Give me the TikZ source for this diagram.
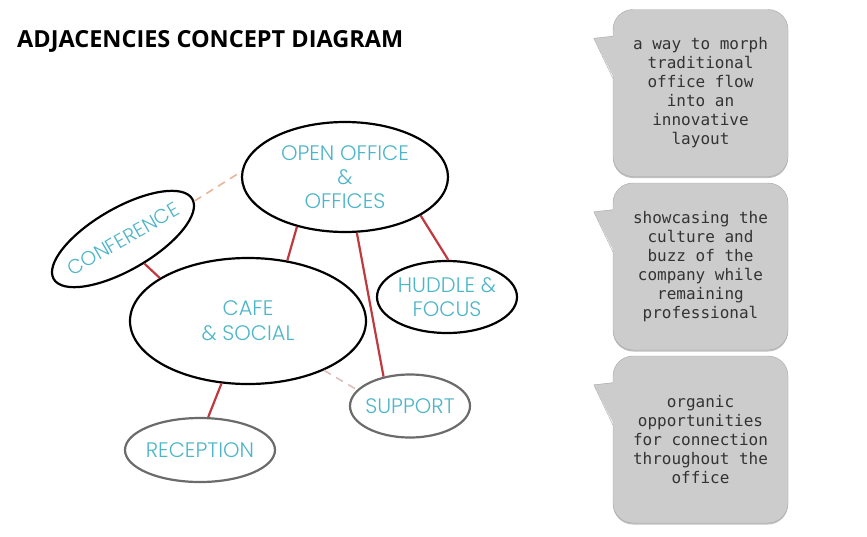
\documentclass[tikz,border=0pt]{standalone}
\usepackage{fontspec}
\setmainfont{Open Sans}
\newfontfamily\roomfont{Poppins}[UprightFont=* Light]
\newfontfamily\notefont{DejaVu Sans Mono}
\usetikzlibrary{shapes.geometric, calc, shadows}

\definecolor{roomteal}{HTML}{4DB5C8}
\definecolor{ringgray}{HTML}{6B6B6B}
\definecolor{linkred}{HTML}{C0393F}
\definecolor{weakpeach}{HTML}{E8B49C}
\definecolor{faintpink}{HTML}{DDBFBF}
\definecolor{notefill}{HTML}{CCCCCC}
\definecolor{notegray}{HTML}{A8A8A8}
\definecolor{notetext}{HTML}{333333}

\begin{document}
\begin{tikzpicture}[
    x=1pt, y=1pt,
    room/.style={draw, ellipse, line width=2.2pt, inner sep=0pt},
    minor/.style={room, draw=ringgray},
    roomtext/.style={text=roomteal, font=\roomfont\fontsize{21}{24}\selectfont, align=center},
    link/.style={draw=linkred, line width=2.2pt},
    weak/.style={draw=weakpeach, line width=1.6pt, dash pattern=on 8pt off 6pt},
    note/.style={draw=notegray, fill=notefill, rounded corners=20pt,
        minimum width=175pt, minimum height=167pt, align=center, text=notetext,
        font=\notefont\fontsize{16}{19}\selectfont,
        drop shadow={shadow xshift=0pt, shadow yshift=-1.5pt, fill=black, opacity=0.25}}
]
    \useasboundingbox (0,0) rectangle (867,-536);

    \node[anchor=base west, inner sep=0pt, font=\bfseries\fontsize{23.5}{27}\selectfont] (title) at (17,-47) {ADJACENCIES CONCEPT DIAGRAM};

    % rooms
    \node[room, minimum width=206pt, minimum height=110pt] (open) at (345,-177) {};
    \node[room, rotate=30, minimum width=160pt, minimum height=62pt] (conf) at (123,-239) {};
    \node[room, minimum width=236pt, minimum height=126pt] (cafe) at (248,-321) {};
    \node[room, minimum width=140pt, minimum height=72pt] (huddle) at (447,-297) {};
    \node[minor, minimum width=120pt, minimum height=63pt] (support) at (410,-406) {};
    \node[minor, minimum width=150pt, minimum height=64pt] (reception) at (200,-450) {};

    \node[roomtext] (open-t) at (open) {OPEN OFFICE\\\&\\OFFICES};
    \node[roomtext, rotate=30, font=\roomfont\fontsize{20}{24}\selectfont] (conf-t) at (conf) {CONFERENCE};
    \node[roomtext, font=\roomfont\fontsize{21}{25}\selectfont] (cafe-t) at (cafe) {CAFE\\\& SOCIAL};
    \node[roomtext] (huddle-t) at (huddle) {HUDDLE \&\\FOCUS};
    \node[roomtext] (support-t) at (support) {SUPPORT};
    \node[roomtext] (reception-t) at (reception) {RECEPTION};

    % adjacencies
    \draw[weak] (conf.-2) -- (open.177);
    \draw[link] (conf.-79) -- (cafe.154);
    \draw[link] (open.226) -- (cafe.57);
    \draw[link] (open.-78) -- (support.132);
    \draw[link] (open.-27) -- (huddle.88);
    \draw[link] (cafe.-113) -- (reception.76);
    \draw[weak, draw=faintpink] (cafe.-33) -- (support.163);

    % callouts
    \node[note] (n1) at (700.5,-93) {a way to morph\\traditional\\office flow\\into an\\innovative\\layout};
    \node[note] (n2) at (700.5,-266.5) {showcasing the\\culture and\\buzz of the\\company while\\remaining\\professional};
    \node[note] (n3) at (700.5,-439.5) {organic\\opportunities\\for connection\\throughout the\\office};

    \foreach \n in {n1,n2,n3} {
        \fill[notefill] ($(\n.north west)+(1.5,-26.5)$) -- ($(\n.north west)+(-19,-29)$) -- ($(\n.north west)+(1.5,-69.5)$) -- cycle;
        \draw[notegray] ($(\n.north west)+(0,-27)$) -- ($(\n.north west)+(-19,-29)$) -- ($(\n.north west)+(0,-69)$);
    }
\end{tikzpicture}
\end{document}
